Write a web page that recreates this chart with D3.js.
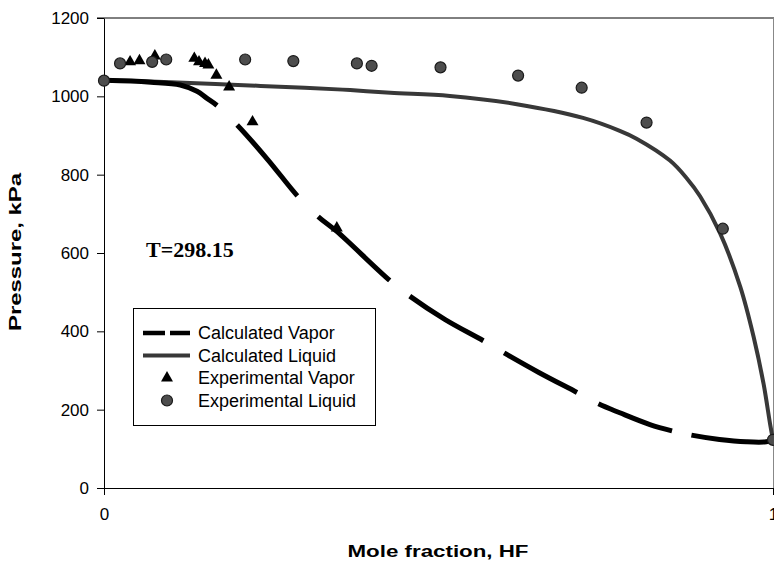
<!DOCTYPE html>
<html>
<head>
<meta charset="utf-8">
<script src="https://cdn.jsdelivr.net/npm/d3@7"></script>
<style>
  body { margin: 0; background: #fff; }
  svg { display: block; }
</style>
</head>
<body>
<div id="chart"></div>
<script>
// data (mole fraction HF, pressure kPa)
var calcVapor = [[0, 1041], [0.04, 1039], [0.07, 1036], [0.114, 1029], [0.139, 1013], [0.153, 996],
    [0.168, 978], [0.199, 927], [0.245, 838], [0.289, 746], [0.320, 693], [0.348, 655], [0.427, 530],
    [0.457, 490], [0.51, 430], [0.567, 376], [0.598, 345], [0.65, 295], [0.707, 244], [0.739, 215],
    [0.771, 192], [0.816, 162], [0.849, 146], [0.878, 135], [0.92, 124], [0.96, 118], [0.99, 118], [1, 123]];
// where the long-dash pattern of the vapor curve has its gaps (mole fraction)
var vaporGaps = [[0.169, 0.199], [0.289, 0.320], [0.427, 0.457], [0.567, 0.598], [0.707, 0.739], [0.849, 0.878]];
var calcLiquid = [[0, 1042], [0.1, 1036], [0.2, 1029], [0.3, 1022], [0.368, 1016], [0.428, 1009],
    [0.517, 1001], [0.617, 980], [0.716, 945], [0.771, 912], [0.796, 892], [0.846, 836], [0.871, 791],
    [0.891, 745], [0.921, 650], [0.951, 514], [0.971, 386], [0.986, 265], [0.996, 160], [1, 123]];
var expVapor = [[0.039, 1088], [0.053, 1091], [0.076, 1103], [0.135, 1097], [0.142, 1088], [0.151, 1084],
    [0.156, 1080], [0.168, 1054], [0.187, 1024], [0.222, 935], [0.348, 664]];
var expLiquid = [[0, 1040], [0.024, 1084], [0.072, 1088], [0.093, 1094], [0.211, 1094], [0.283, 1090],
    [0.378, 1084], [0.400, 1078], [0.503, 1074], [0.619, 1053], [0.714, 1022], [0.811, 933], [0.925, 662], [1, 123]];
var yTicks = [0, 200, 400, 600, 800, 1000, 1200];
var xTicks = [0, 1];
var legendLabels = ["Calculated Vapor", "Calculated Liquid", "Experimental Vapor", "Experimental Liquid"];

var width = 774;
var height = 565;

var svg = d3.select("#chart")
    .append("svg")
    .attr("width", width)
    .attr("height", height);

var x = d3.scaleLinear().domain([0, 1]).range([104, 773]);
var y = d3.scaleLinear().domain([0, 1200]).range([488, 18]);

// frame lines on top and right
svg.append("line")
    .attr("x1", 97).attr("x2", 774)
    .attr("y1", y(1200)).attr("y2", y(1200))
    .attr("stroke", "#000").attr("stroke-width", 1);
svg.append("line")
    .attr("x1", 773.5).attr("x2", 773.5)
    .attr("y1", y(1200)).attr("y2", y(0))
    .attr("stroke", "#888").attr("stroke-width", 1);

// Y axis
var yAxis = svg.append("g")
    .attr("transform", "translate(104,0)")
    .call(d3.axisLeft(y).tickValues(yTicks).tickFormat(d3.format("d"))
        .tickSize(7).tickPadding(8).tickSizeOuter(0));
// X axis
var xAxis = svg.append("g")
    .attr("transform", "translate(0,488)")
    .call(d3.axisBottom(x).tickValues(xTicks).tickFormat(d3.format("d"))
        .tickSize(7).tickPadding(13).tickSizeOuter(0));

svg.selectAll(".domain").attr("stroke", "#000");
svg.selectAll(".tick line").attr("stroke", "#000");
svg.selectAll(".tick text")
    .attr("fill", "#000")
    .style("font-family", "'Liberation Sans', Arial, sans-serif")
    .style("font-size", "17px");
// x axis line starts a bit left of the y axis
xAxis.append("line")
    .attr("x1", 97).attr("x2", 104).attr("y1", 0.5).attr("y2", 0.5)
    .attr("stroke", "#000");

// Axis titles
svg.append("text")
    .attr("x", 438)
    .attr("y", 557)
    .attr("text-anchor", "middle")
    .attr("textLength", 181)
    .attr("lengthAdjust", "spacingAndGlyphs")
    .style("font-family", "'Liberation Sans', Arial, sans-serif")
    .style("font-weight", "bold")
    .style("font-size", "16px")
    .text("Mole fraction, HF");

svg.append("text")
    .attr("transform", "translate(21,252) rotate(-90)")
    .attr("text-anchor", "middle")
    .attr("textLength", 158)
    .attr("lengthAdjust", "spacingAndGlyphs")
    .style("font-family", "'Liberation Sans', Arial, sans-serif")
    .style("font-weight", "bold")
    .style("font-size", "17px")
    .text("Pressure, kPa");

// temperature label
svg.append("text")
    .attr("x", 146)
    .attr("y", 257)
    .style("font-family", "'Liberation Serif', 'Times New Roman', serif")
    .style("font-weight", "bold")
    .style("font-size", "22px")
    .text("T=298.15");

var line = d3.line()
    .x(function (d) { return x(d[0]); })
    .y(function (d) { return y(d[1]); })
    .curve(d3.curveCatmullRom.alpha(0.5));

// Calculated liquid
svg.append("path")
    .datum(calcLiquid)
    .attr("d", line)
    .attr("fill", "none")
    .attr("stroke", "#383838")
    .attr("stroke-width", 4);

// Calculated vapor (long dashes)
var vaporPath = svg.append("path")
    .datum(calcVapor)
    .attr("d", line)
    .attr("fill", "none")
    .attr("stroke", "#000")
    .attr("stroke-width", 5);

// build the dash pattern so the gaps fall where they do in the figure
var node = vaporPath.node();
var total = node.getTotalLength();
function lengthAtX(px) {
    var lo = 0, hi = total;
    for (var k = 0; k < 40; k++) {
        var mid = (lo + hi) / 2;
        if (node.getPointAtLength(mid).x < px) lo = mid; else hi = mid;
    }
    return lo;
}
var dashes = [];
var pos = 0;
vaporGaps.forEach(function (g) {
    var a = lengthAtX(x(g[0]));
    var b = lengthAtX(x(g[1]));
    dashes.push(a - pos, b - a);
    pos = b;
});
dashes.push(total - pos + 10, 0);
vaporPath.attr("stroke-dasharray", dashes.join(","));

var tri = d3.symbol().type(d3.symbolTriangle).size(62);

// Experimental vapor
svg.append("g")
    .selectAll("path")
    .data(expVapor)
    .enter()
    .append("path")
    .attr("d", tri)
    .attr("transform", function (d) { return "translate(" + x(d[0]) + "," + y(d[1]) + ")"; })
    .attr("fill", "#000");

// Experimental liquid
svg.append("g")
    .selectAll("circle")
    .data(expLiquid)
    .enter()
    .append("circle")
    .attr("cx", function (d) { return x(d[0]); })
    .attr("cy", function (d) { return y(d[1]); })
    .attr("r", 5.5)
    .attr("fill", "#4d4d4d")
    .attr("stroke", "#1a1a1a")
    .attr("stroke-width", 1.2);

// Legend
var legend = svg.append("g");
legend.append("rect")
    .attr("x", 133.5).attr("y", 308.5)
    .attr("width", 242).attr("height", 117)
    .attr("fill", "#fff")
    .attr("stroke", "#000")
    .attr("stroke-width", 1);

var rowY = [333, 355.5, 378, 400.5];
legend.append("line")
    .attr("x1", 143).attr("x2", 190).attr("y1", rowY[0]).attr("y2", rowY[0])
    .attr("stroke", "#000").attr("stroke-width", 4.5)
    .attr("stroke-dasharray", "22,5");
legend.append("line")
    .attr("x1", 143).attr("x2", 190).attr("y1", rowY[1]).attr("y2", rowY[1])
    .attr("stroke", "#383838").attr("stroke-width", 4);
legend.append("path")
    .attr("d", tri)
    .attr("transform", "translate(167," + rowY[2] + ")")
    .attr("fill", "#000");
legend.append("circle")
    .attr("cx", 167).attr("cy", rowY[3]).attr("r", 5.5)
    .attr("fill", "#4d4d4d").attr("stroke", "#1a1a1a").attr("stroke-width", 1.2);

legend.selectAll("text")
    .data(legendLabels)
    .enter()
    .append("text")
    .attr("x", 198)
    .attr("y", function (d, i) { return rowY[i]; })
    .attr("dy", "0.35em")
    .style("font-family", "'Liberation Sans', Arial, sans-serif")
    .style("font-size", "18px")
    .text(function (d) { return d; });
</script>
</body>
</html>
